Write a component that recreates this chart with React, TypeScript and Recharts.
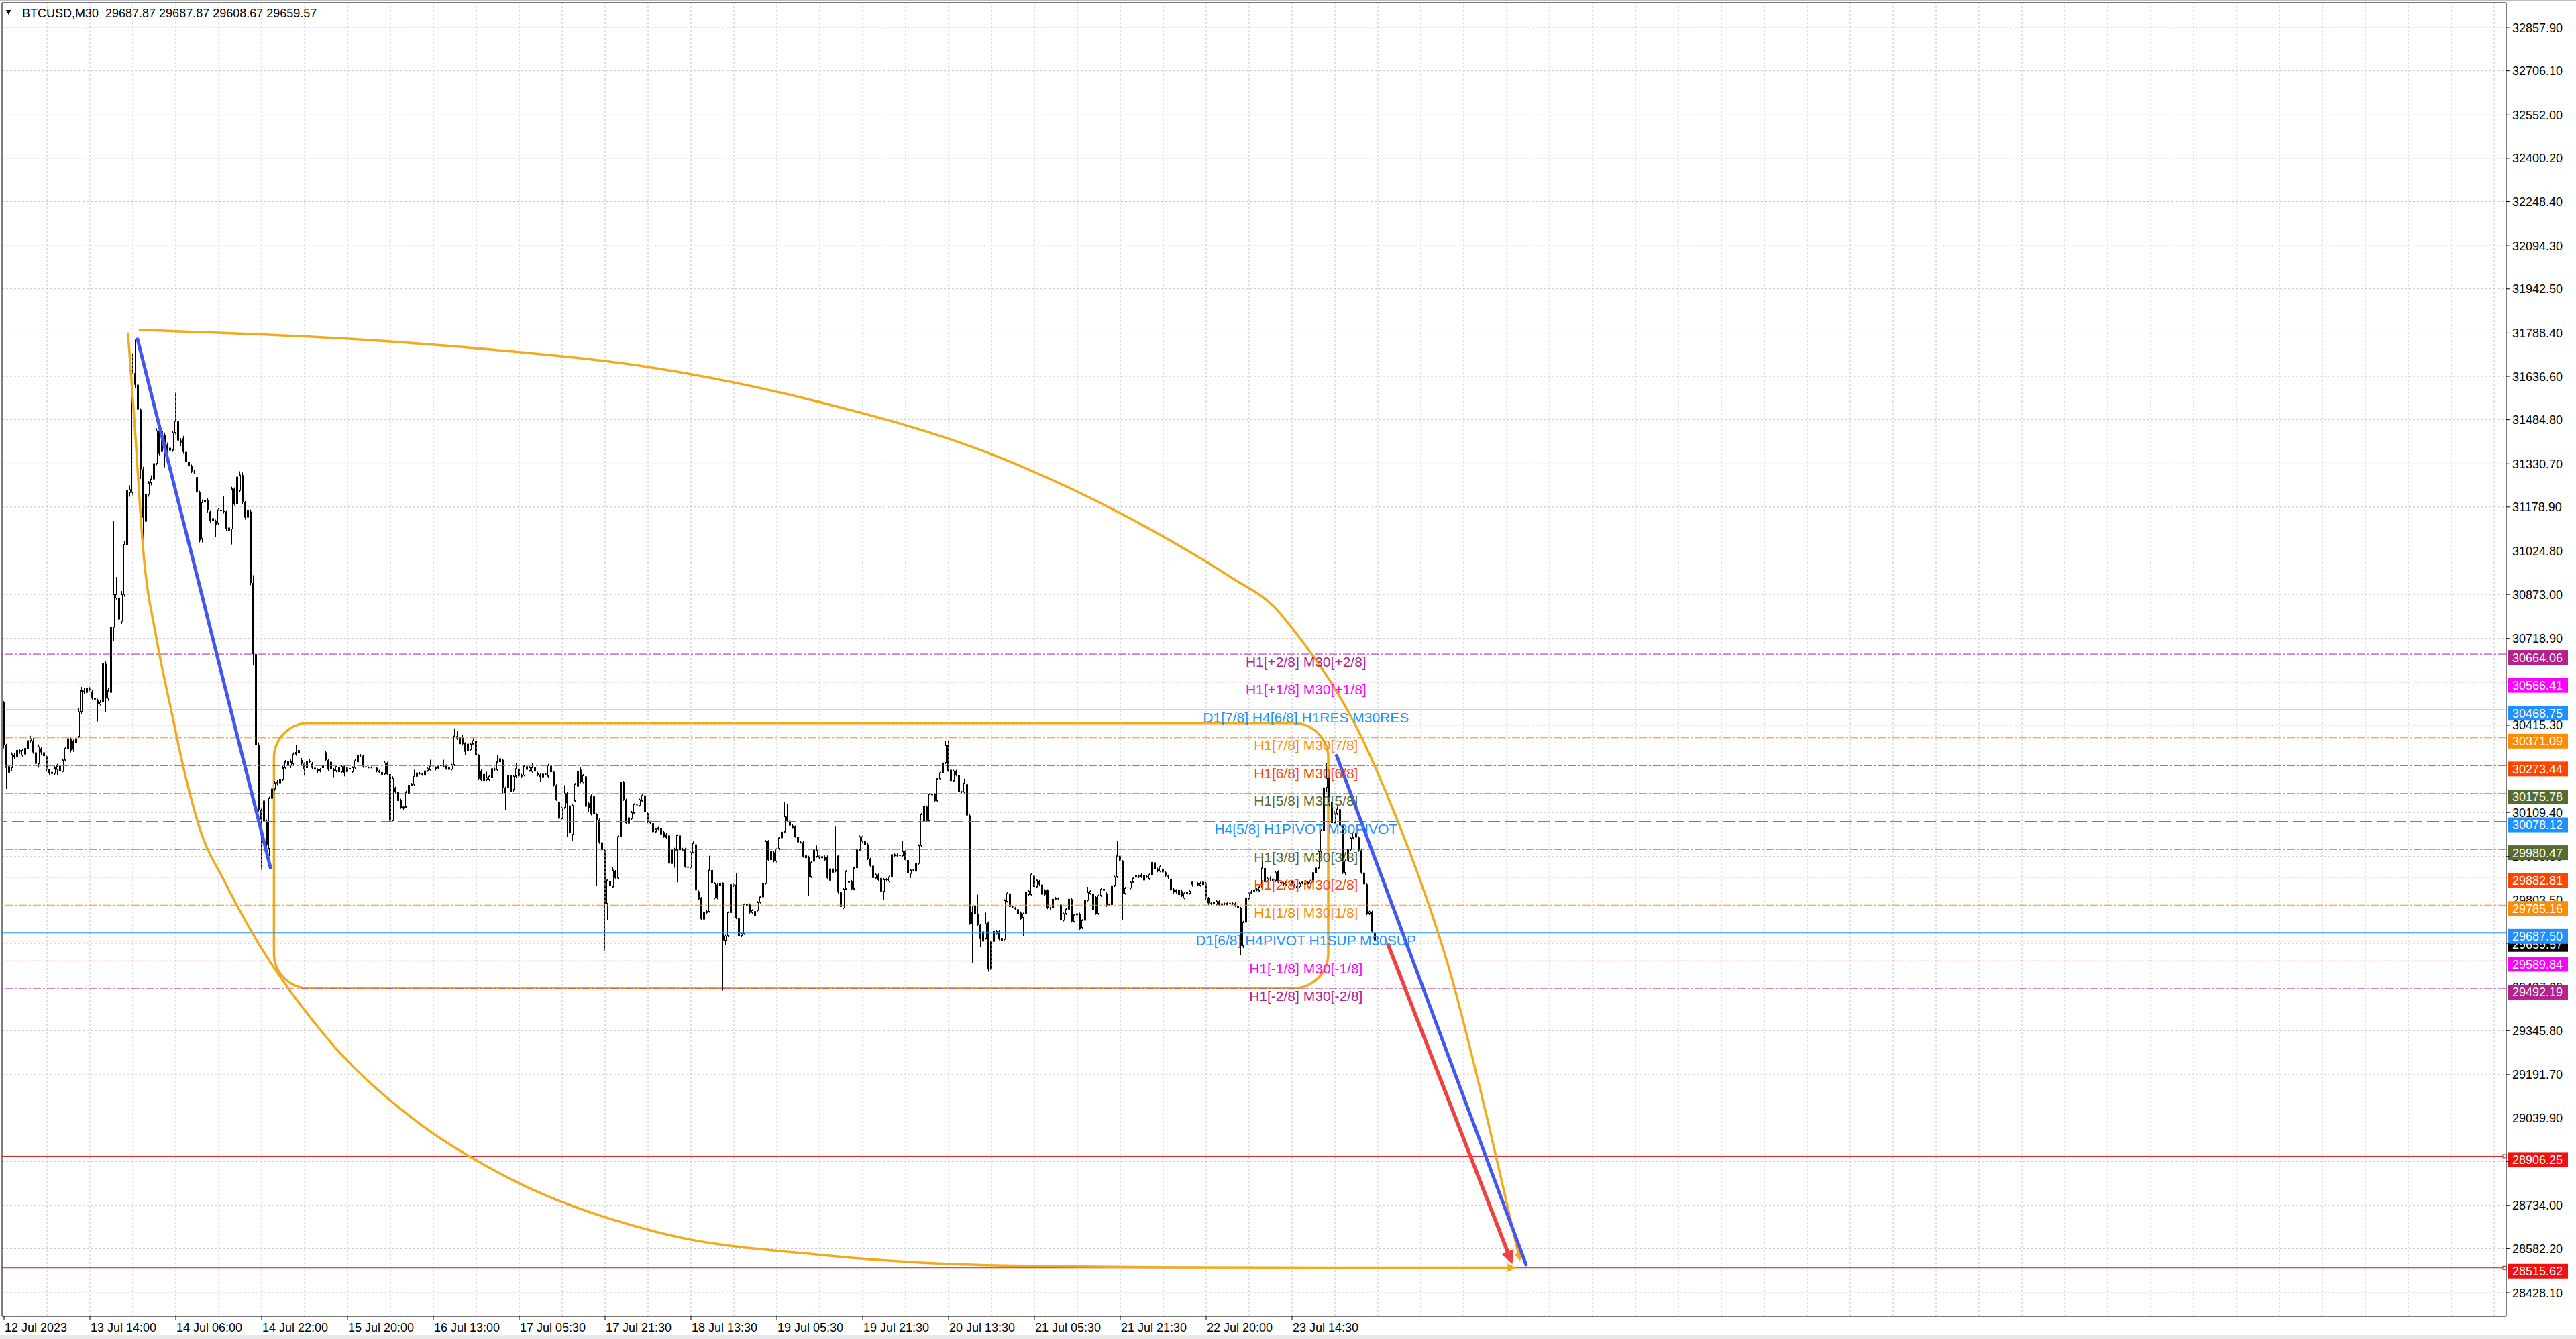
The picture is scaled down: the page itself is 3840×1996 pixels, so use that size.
import React from "react";
import {
  ComposedChart,
  Bar,
  Line,
  XAxis,
  YAxis,
  CartesianGrid,
  ReferenceLine,
  ReferenceArea,
  ReferenceDot,
} from "recharts";

const FONT = "'Liberation Sans', Arial, Helvetica, sans-serif";

// M30 candles, [open, high, low, close]
const rallyBars = [
  [30496,30500,30334,30347],[30347,30350,30192,30266],[30250,30275,30206,30270],[30266,30320,30255,30314],
  [30310,30318,30298,30305],[30305,30335,30300,30327],[30327,30332,30315,30322],[30310,30333,30305,30327],
  [30314,30340,30310,30334],[30334,30381,30330,30361],[30361,30378,30355,30368],[30361,30370,30315,30320],
  [30320,30325,30270,30280],[30280,30348,30266,30340],[30334,30340,30312,30320],[30320,30325,30300,30307],
  [30307,30310,30255,30260],[30260,30262,30239,30246],[30246,30256,30240,30250],[30246,30272,30240,30266],
  [30260,30280,30239,30273],[30273,30276,30248,30253],[30253,30298,30250,30293],[30293,30340,30288,30334],
  [30334,30375,30330,30368],[30368,30372,30320,30327],[30361,30365,30322,30330],[30354,30372,30350,30368],
  [30375,30475,30370,30462],[30462,30549,30455,30536],[30536,30545,30525,30532],[30530,30590,30525,30543],
  [30543,30550,30532,30540],[30533,30540,30505,30509],[30509,30515,30498,30505],[30502,30508,30428,30489],
  [30489,30505,30484,30496],[30496,30640,30490,30630],[30630,30640,30462,30509],[30509,30545,30500,30536],
  [30530,30765,30525,30758],[30758,31129,30711,30873],[30860,30934,30855,30873],[30860,30870,30711,30785],
  [30779,30885,30770,30873],[30873,31060,30865,31048],[31048,31412,31040,31237],[31230,31255,31215,31240],
  [31230,31715,31220,31648],[31648,31765,31595,31607],[31607,31655,31510,31520],[31520,31525,31277,31311],
  [31311,31320,31035,31142],[31129,31230,31095,31223],[31223,31270,31215,31264],[31264,31290,31255,31277],
  [31277,31351,31270,31331],[31331,31455,31325,31446],[31446,31452,31360,31365],[31446,31455,31365,31372],
  [31432,31440,31318,31365],[31398,31405,31370,31378],[31378,31392,31372,31385],[31378,31446,31372,31439],
  [31439,31580,31430,31479],[31479,31490,31405,31412],[31412,31420,31392,31405],[31420,31428,31365,31372],
  [31372,31378,31332,31338],[31338,31342,31318,31324],[31324,31328,31298,31304],[31304,31310,31294,31300],
  [31284,31290,31225,31230],[31230,31236,31055,31062],[31068,31205,31055,31196],[31196,31250,31190,31203],
  [31203,31210,31160,31169],[31163,31168,31122,31129],[31140,31168,31120,31130],[31130,31135,31075,31115],
  [31122,31175,31115,31169],[31169,31175,31160,31165],[31163,31216,31156,31166],[31163,31168,31095,31102],
  [31107,31112,31068,31095],[31102,31250,31048,31243],[31243,31248,31184,31190],[31190,31290,31182,31284],
  [31237,31304,31230,31291],[31291,31300,31190,31196],[31196,31200,31135,31142],[31169,31175,31062,31142],
  [31163,31170,30905,30913],[30913,30940,30624,30664],[30664,30670,30327,30347],[30347,30355,30110,30118],
  [30118,30125,29909,30085],[30151,30160,30070,30078],[30078,30085,29990,29997],[29984,30165,29957,30159],
  [30159,30205,30150,30192],[30192,30220,30185,30213],[30213,30225,30205,30216],[30213,30232,30208,30226],
  [30226,30272,30220,30266],[30266,30293,30260,30287],[30273,30295,30268,30287],[30273,30295,30265,30287],
  [30280,30320,30275,30314],[30314,30347,30308,30320],[30320,30335,30315,30327],[30293,30300,30275,30280],
  [30280,30285,30239,30260],[30266,30292,30260,30287],[30287,30296,30282,30290],[30280,30286,30262,30266],
  [30266,30270,30254,30260],[30260,30264,30248,30253],[30256,30265,30250,30260],[30266,30278,30262,30273],
  [30320,30325,30288,30293],[30293,30298,30255,30260],[30287,30292,30256,30260],[30260,30265,30233,30253],
  [30256,30275,30250,30270],[30252,30272,30248,30267],[30252,30276,30248,30271],[30271,30275,30236,30248],
];

const rangeBarsA = [
  [30252,30272,30248,30267],[30265,30270,30258,30262],[30252,30271,30248,30267],[30267,30296,30262,30291],
  [30287,30316,30283,30310],[30310,30314,30303,30308],[30308,30312,30266,30271],[30271,30274,30263,30267],
  [30267,30270,30264,30267],[30267,30271,30264,30268],[30268,30270,30263,30266],[30266,30269,30250,30253],
  [30256,30259,30246,30250],[30251,30254,30236,30240],[30244,30290,30240,30283],[30283,30287,30240,30244],
  [30244,30250,30025,30080],[30081,30236,30075,30230],[30197,30200,30176,30181],[30181,30185,30146,30150],
  [30154,30158,30122,30126],[30130,30133,30118,30123],[30128,30186,30124,30181],[30177,30210,30172,30205],
  [30205,30213,30202,30208],[30208,30259,30204,30236],[30236,30252,30232,30248],[30248,30251,30242,30245],
  [30245,30248,30238,30242],[30240,30259,30237,30255],[30255,30267,30252,30263],[30259,30294,30255,30271],
  [30269,30273,30265,30268],[30268,30271,30257,30261],[30265,30276,30261,30273],[30273,30277,30269,30272],
  [30272,30294,30269,30275],[30275,30278,30259,30263],[30267,30270,30255,30259],[30261,30280,30257,30276],
  [30276,30404,30272,30377],[30377,30396,30364,30369],[30373,30378,30345,30349],[30375,30381,30344,30349],
  [30352,30356,30310,30322],[30326,30353,30322,30349],[30330,30354,30326,30349],[30349,30370,30345,30361],
  [30361,30365,30306,30310],[30310,30314,30224,30228],[30255,30260,30220,30224],[30244,30248,30197,30220],
  [30224,30252,30220,30232],[30224,30240,30220,30236],[30232,30267,30228,30263],[30263,30266,30255,30259],
  [30259,30310,30255,30287],[30287,30302,30283,30298],[30294,30298,30177,30197],[30197,30200,30119,30177],
  [30197,30244,30193,30240],[30240,30244,30175,30181],[30189,30240,30183,30236],[30236,30284,30232,30263],
  [30263,30267,30232,30236],[30236,30245,30232,30240],[30240,30275,30236,30271],[30271,30275,30255,30259],
  [30255,30271,30252,30267],[30253,30283,30249,30267],[30267,30271,30249,30253],[30248,30252,30236,30240],
  [30242,30246,30216,30234],[30234,30248,30230,30244],[30244,30248,30240,30243],[30236,30280,30232,30275],
  [30252,30283,30248,30275],[30252,30256,30200,30205],[30205,30208,30150,30154],[30146,30150,29962,30088],
  [30088,30130,30083,30126],[30126,30205,30122,30177],[30177,30181,30025,30142],[30134,30138,30032,30037],
  [30033,30138,30009,30134],[30150,30213,30146,30209],[30201,30256,30197,30252],[30259,30267,30212,30216],
  [30216,30244,30212,30240],[30236,30240,30126,30130],[30142,30146,30111,30126],[30169,30173,30099,30103],
  [30166,30170,30098,30103],[30103,30107,29853,30084],[30084,30088,30000,30005],[30005,30009,29974,29978],
  [29978,29982,29627,29791],[29791,29877,29732,29873],[29853,29873,29849,29869],[29849,29920,29845,29908],
  [29904,29908,29876,29880],[29880,30029,29876,30025],[30025,30220,30021,30216],[30216,30220,30150,30154],
  [30154,30158,30068,30072],[30072,30095,30056,30091],[30088,30115,30084,30111],[30107,30142,30103,30138],
  [30136,30140,30130,30134],[30134,30158,30130,30154],[30150,30173,30146,30169],[30169,30173,30107,30111],
  [30107,30111,30072,30076],[30076,30080,30068,30072],[30072,30076,30037,30041],[30042,30056,30038,30052],
  [30052,30060,30048,30056],[30056,30060,30029,30033],[30041,30045,30021,30025],[30033,30037,30017,30021],
  [30029,30033,29896,29931],[29931,29982,29927,29978],[29978,29986,29916,29982],[29978,30033,29865,30029],
  [30029,30056,29974,29978],[29978,29986,29974,29982],[29982,29986,29916,29920],[29920,29924,29880,29916],
  [29916,29974,29912,29970],[29970,30009,29966,30001],[29998,30002,29759,29837],[29833,29837,29802,29806],
  [29810,29814,29732,29736],[29736,29763,29669,29759],[29759,29767,29755,29763],[29763,29958,29759,29908],
  [29908,29912,29857,29861],[29810,29865,29806,29861],[29857,29861,29806,29810],[29853,29865,29849,29861],
  [29861,29865,29486,29662],[29662,29681,29646,29677],[29677,29763,29673,29759],[29759,29861,29755,29857],
  [29853,29861,29849,29857],[29857,29896,29736,29740],[29740,29744,29673,29677],[29677,29689,29673,29685],
  [29685,29791,29681,29787],[29783,29791,29779,29787],[29787,29791,29755,29759],[29759,29771,29755,29767],
  [29748,29767,29744,29763],[29767,29799,29763,29795],[29795,29818,29791,29814],[29814,29865,29810,29861],
  [29861,30013,29857,30009],[30009,30013,29939,29943],
];

const rangeBarsB = [
  [29974,29978,29939,29943],[29970,29974,29935,29939],[29939,29986,29935,29982],[29982,30025,29978,30021],
  [30021,30045,30017,30041],[30041,30146,30037,30095],[30095,30138,30076,30080],[30080,30084,30060,30064],
  [30064,30068,30052,30056],[30060,30064,30021,30025],[30025,30029,30001,30005],[30005,30009,30001,30004],
  [30005,30009,29951,29955],[29951,29962,29947,29958],[29955,29958,29818,29884],[29884,29939,29880,29935],
  [29939,29982,29935,29978],[29955,29994,29951,29978],[29958,29962,29947,29951],[29951,29959,29946,29955],
  [29955,29959,29939,29943],[29955,29959,29876,29880],[29872,29916,29861,29912],[29900,29916,29802,29912],
  [29904,30060,29900,29908],[29958,29962,29826,29830],[29830,29834,29736,29779],[29775,29845,29771,29841],
  [29841,29908,29837,29904],[29865,29873,29861,29869],[29869,29873,29837,29841],[29841,29920,29837,29916],
  [29916,30029,29912,29982],[29978,30029,29974,30025],[30009,30029,30005,30025],[29998,30029,29994,30009],
  [29998,30002,29943,29947],[29947,29951,29919,29923],[29923,29927,29810,29880],[29880,29896,29876,29892],
  [29892,29896,29869,29873],[29880,29884,29830,29833],[29833,29880,29802,29876],[29876,29880,29869,29873],
  [29869,29888,29865,29884],[29884,29966,29880,29962],[29958,29966,29955,29962],[29962,29966,29955,29958],
  [29958,29962,29955,29959],[29958,30009,29955,29974],[29974,29978,29939,29943],[29943,29947,29892,29896],
  [29896,29912,29880,29908],[29908,29912,29904,29907],[29904,29935,29900,29931],[29931,29998,29927,29994],
  [29994,30107,29990,30103],[30080,30134,30076,30130],[30130,30134,30076,30080],[30080,30177,30076,30173],
  [30173,30177,30166,30170],[30173,30177,30146,30150],[30150,30232,30146,30228],[30228,30252,30224,30248],
  [30248,30334,30244,30283],[30283,30361,30279,30345],[30345,30361,30251,30255],[30259,30263,30185,30220],
  [30220,30259,30216,30255],[30255,30259,30236,30240],[30240,30244,30134,30181],[30181,30185,30177,30182],
  [30181,30228,30177,30212],[30208,30212,30087,30099],[30099,30103,29716,29720],[29760,29783,29584,29720],
  [29755,29787,29751,29783],[29755,29822,29712,29716],[29716,29720,29638,29669],[29693,29697,29654,29658],
  [29669,29759,29665,29720],[29724,29728,29552,29560],[29560,29662,29556,29658],[29658,29697,29630,29693],
  [29685,29697,29681,29693],[29693,29697,29662,29666],[29662,29673,29630,29669],[29666,29806,29662,29802],
  [29798,29830,29794,29826],[29826,29830,29775,29779],[29779,29783,29775,29778],[29775,29779,29767,29771],
  [29771,29775,29751,29755],[29759,29763,29732,29736],[29740,29759,29677,29755],[29755,29834,29751,29830],
  [29822,29838,29818,29834],[29822,29896,29818,29892],[29888,29892,29845,29849],[29849,29877,29845,29873],
  [29869,29873,29853,29857],[29857,29861,29818,29822],[29837,29841,29818,29822],[29837,29841,29771,29775],
  [29775,29779,29767,29773],[29775,29810,29771,29806],[29806,29814,29802,29810],[29808,29812,29802,29806],
  [29787,29791,29728,29732],[29732,29759,29728,29755],[29755,29775,29751,29771],[29771,29810,29767,29806],
  [29806,29810,29724,29728],[29728,29755,29724,29751],[29751,29759,29747,29755],[29755,29759,29697,29701],
  [29705,29736,29701,29732],[29732,29806,29728,29802],[29802,29849,29798,29830],[29826,29838,29822,29834],
  [29826,29830,29763,29767],[29814,29818,29751,29755],[29755,29822,29751,29818],[29818,29845,29814,29841],
  [29837,29845,29833,29841],[29826,29830,29779,29783],[29787,29791,29783,29786],[29787,29857,29783,29853],
  [29853,29888,29849,29884],[29884,30009,29880,29958],[29958,29962,29935,29939],[29939,29943,29732,29826],
  [29826,29849,29822,29845],[29845,29850,29798,29846],[29845,29869,29841,29865],[29865,29884,29861,29880],
  [29884,29900,29880,29888],[29888,29892,29880,29885],[29892,29896,29880,29884],[29873,29892,29869,29888],
  [29884,29889,29880,29885],[29877,29896,29873,29892],[29892,29939,29888,29935],[29935,29939,29908,29912],
  [29912,29916,29900,29904],[29904,29924,29900,29920],[29912,29916,29896,29900],[29900,29904,29884,29888],
  [29888,29892,29876,29882],[29876,29880,29833,29837],[29841,29845,29826,29830],[29837,29841,29826,29830],
  [29822,29841,29818,29837],[29834,29838,29814,29818],[29810,29830,29806,29826],[29826,29834,29822,29830],
  [29826,29838,29822,29834],
];

const tailBars = [
  [29858,29870,29850,29866],[29862,29868,29855,29860],[29856,29866,29852,29862],[29855,29867,29850,29862],
  [29857,29870,29853,29866],[29862,29866,29805,29810],[29810,29814,29786,29792],[29792,29796,29786,29790],
  [29790,29798,29787,29794],[29788,29803,29784,29799],[29799,29803,29782,29786],[29786,29794,29782,29790],
  [29790,29794,29785,29789],[29787,29796,29783,29792],[29792,29795,29786,29790],[29790,29795,29786,29791],
  [29791,29795,29779,29783],[29783,29787,29770,29775],[29775,29779,29610,29643],[29643,29730,29635,29725],
  [29725,29812,29720,29808],[29808,29832,29804,29828],[29828,29838,29824,29832],[29832,29843,29828,29838],
  [29838,29846,29834,29841],[29835,29853,29831,29849],[29849,29940,29845,29915],[29915,29920,29862,29866],
  [29870,29885,29866,29878],[29878,29886,29870,29875],[29878,29883,29864,29868],[29870,29904,29866,29899],
  [29903,29907,29862,29866],[29866,29870,29857,29862],[29862,29866,29854,29858],[29856,29870,29852,29866],
  [29866,29872,29862,29868],[29868,29872,29851,29855],[29855,29859,29844,29848],[29848,29856,29844,29851],
  [29851,29866,29847,29862],[29862,29870,29858,29866],[29858,29866,29854,29862],[29866,29870,29854,29858],
  [29862,29874,29858,29870],[29866,29903,29862,29899],[29899,29920,29895,29915],[29915,29977,29910,29973],
  [29973,30051,29969,30047],[30047,30200,30043,30196],[30196,30282,30180,30229],[30229,30235,30130,30146],
  [30146,30150,29998,30072],[30072,30115,30068,30105],[30105,30130,30100,30121],[30121,30126,30060,30064],
  [30064,30068,29894,29899],[29899,29945,29890,29940],[29940,29985,29935,29980],[29980,30025,29975,30020],
  [30020,30045,30015,30039],[30039,30045,30018,30022],[30022,30026,29972,29977],[29977,29981,29894,29899],
  [29899,29903,29825,29858],[29858,29862,29750,29755],[29755,29766,29750,29762],[29762,29766,29688,29693],
  [29687.87,29687.87,29608.67,29659.57],
];

const xTickBars = [0, 32, 64, 96, 128, 160, 192, 224, 256, 288, 320, 352, 384, 416, 448, 480];
const xTickLabels = [
  "12 Jul 2023", "13 Jul 14:00", "14 Jul 06:00", "14 Jul 22:00", "15 Jul 20:00", "16 Jul 13:00",
  "17 Jul 05:30", "17 Jul 21:30", "18 Jul 13:30", "19 Jul 05:30", "19 Jul 21:30", "20 Jul 13:30",
  "21 Jul 05:30", "21 Jul 21:30", "22 Jul 20:00", "23 Jul 14:30",
];

const yTicks = [
  32857.9, 32706.1, 32552.0, 32400.2, 32248.4, 32094.3, 31942.5, 31788.4, 31636.6, 31484.8,
  31330.7, 31178.9, 31024.8, 30873.0, 30718.9, 30567.0, 30415.3, 30261.2, 30109.4, 29955.3,
  29803.5, 29651.7, 29497.6, 29345.8, 29191.7, 29039.9, 28887.8, 28734.0, 28582.2, 28428.1,
];

// Murrey levels
const levelPrices = [
  30664.06, 30566.41, 30468.75, 30371.09, 30273.44, 30175.78, 30078.12,
  29980.47, 29882.81, 29785.16, 29687.5, 29589.84, 29492.19,
];
const levelNames = [
  "H1[+2/8] M30[+2/8]", "H1[+1/8] M30[+1/8]", "D1[7/8] H4[6/8] H1RES M30RES",
  "H1[7/8] M30[7/8]", "H1[6/8] M30[6/8]", "H1[5/8] M30[5/8]", "H4[5/8] H1PIVOT M30PIVOT",
  "H1[3/8] M30[3/8]", "H1[2/8] M30[2/8]", "H1[1/8] M30[1/8]", "D1[6/8] H4PIVOT H1SUP M30SUP",
  "H1[-1/8] M30[-1/8]", "H1[-2/8] M30[-2/8]",
];
const labelBar = 485.2;

const targetPrices = [28906.25, 28515.62];
const bidPrice = 29659.57;

// drawn objects
const topCurveBars = [50.2, 128.5, 182, 243, 304.6, 365.8, 427, 457.7, 473, 482.7, 506, 515.2, 523.5, 531, 537.7, 553.5, 564.75];
const topCurvePrices = [31799, 31768, 31730, 31665, 31545, 31372, 31102, 30930, 30832, 30723, 30371, 30176, 29980, 29785, 29590, 29008, 28550];
const bottomCurveBars = [46.2, 48.5, 51.8, 56.8, 62.3, 66.8, 73.5, 81.8, 86.8, 121, 151.6, 182.2, 243.4, 304.6, 365.8, 427, 500, 562.25];
const bottomCurvePrices = [31790, 31493, 31035, 30720, 30468, 30270, 30037, 29875, 29784, 29313, 29043, 28859, 28640, 28560, 28525, 28518, 28516, 28516];
const boxBars = [100.6, 493.5];
const boxPrices = [30423, 29494];
const blueLegBars = [49.75, 99.3];
const blueLegPrices = [31766.5, 29916];
const blueProjBars = [496.6, 567.2];
const blueProjPrices = [30309, 28527];
const redProjBars = [515.6, 561.4];
const redProjPrices = [29652, 28546];

const DD = "12 3 3 3";
const LEVEL_COLORS = ["#B3228E", "#FF00FF", "#1E90FF", "#FF8C00", "#FF4500", "#556B2F", "#1E90FF",
  "#556B2F", "#FF4500", "#FF8C00", "#1E90FF", "#FF00FF", "#B3228E"];
const LEVEL_DASH = [DD, DD, undefined, DD, DD, DD, "18 7", DD, DD, DD, undefined, DD, DD];
const ORANGE = "#F2AA1C";
const BLUE = "#4357F0";
const RED = "#F04141";
const GRID = "#C4C4C4";

const allBars = [...rallyBars, ...rangeBarsA, ...rangeBarsB, ...tailBars];

function Candle(props: any) {
  const { x, y, width, height, payload } = props;
  if (!payload || height == null) return null;
  const { o, h, l, c } = payload;
  const cx = Math.floor(x + width / 2) + 0.5;
  const ppu = h > l ? height / (h - l) : 0;
  const clamp = (v: number) => Math.min(h, Math.max(l, v));
  const yo = y + (h - clamp(o)) * ppu;
  const yc = y + (h - clamp(c)) * ppu;
  const top = Math.min(yo, yc);
  const bot = Math.max(yo, yc);
  let body;
  if (bot - top < 1.2) {
    body = <line x1={cx - 1.5} x2={cx + 1.5} y1={top} y2={top} stroke="#000" strokeWidth={1} />;
  } else if (c > o) {
    body = <rect x={cx - 1} y={top} width={2} height={bot - top} fill="#fff" stroke="#000" strokeWidth={1} />;
  } else {
    body = <rect x={cx - 1.5} y={top} width={3} height={bot - top} fill="#000" />;
  }
  return (
    <g>
      <line x1={cx} x2={cx} y1={y} y2={y + height} stroke="#000" strokeWidth={1} />
      {body}
    </g>
  );
}

function PriceTag({ viewBox, text, bg, square }: any) {
  if (!viewBox) return null;
  const right = viewBox.x + viewBox.width;
  const y = viewBox.y;
  return (
    <g>
      {square && <rect x={right - 5} y={y - 2.5} width={5} height={5} fill="#fff" stroke={square} strokeWidth={1} />}
      <rect x={right + 2} y={y - 6} width={90} height={22} fill={bg} />
      <text x={right + 9} y={y + 11.5} fill="#fff" fontSize={18} fontFamily={FONT}>{text}</text>
    </g>
  );
}

function PriceTick({ viewBox, text }: any) {
  if (!viewBox) return null;
  const right = viewBox.x + viewBox.width;
  return (
    <text x={right + 9} y={viewBox.y + 6.5} fill="#000" fontSize={18} fontFamily={FONT}>{text}</text>
  );
}

export default function App() {
  const data = allBars.map((b, i) => ({ i, o: b[0], h: b[1], l: b[2], c: b[3], hl: [b[2], b[1]] }));
  const topCurve = topCurveBars.map((i, k) => ({ i, p: topCurvePrices[k] }));
  const bottomCurve = bottomCurveBars.map((i, k) => ({ i, p: bottomCurvePrices[k] }));
  const blueLeg = blueLegBars.map((i, k) => ({ i, p: blueLegPrices[k] }));
  const blueProj = blueProjBars.map((i, k) => ({ i, p: blueProjPrices[k] }));
  const redProj = redProjBars.map((i, k) => ({ i, p: redProjPrices[k] }));
  const gridCols = Array.from({ length: 58 }, (_, k) => 16 * (k + 1));

  return (
    <div style={{ position: "fixed", left: 0, top: 0, width: 3840, height: 1996, background: "#fff", overflow: "hidden" }}>
      <ComposedChart width={3840} height={1996} data={data} margin={{ top: 4, right: 0, bottom: 0, left: 3 }}>
        <defs>
          <marker id="arrowRed" viewBox="0 0 10 10" refX="6" refY="5" markerWidth="3.6" markerHeight="3.6" orient="auto">
            <path d="M0,0 L10,5 L0,10 z" fill={RED} />
          </marker>
          <marker id="arrowOrange" viewBox="0 0 10 10" refX="6" refY="5" markerWidth="3.6" markerHeight="3.6" orient="auto">
            <path d="M0,0 L10,5 L0,10 z" fill={ORANGE} />
          </marker>
        </defs>
        <XAxis
          dataKey="i"
          type="number"
          domain={[-0.75, 932.5]}
          allowDataOverflow
          ticks={xTickBars}
          interval={0}
          height={34}
          tickSize={6}
          tickMargin={2}
          axisLine={{ stroke: "#000" }}
          tickLine={{ stroke: "#000" }}
          tick={(p: any) => (
            <text x={p.x + 1} y={p.y + 14.5} textAnchor="start" fontSize={18} fontFamily={FONT} fill="#000">
              {xTickLabels[xTickBars.indexOf(p.payload.value)]}
            </text>
          )}
        />
        <YAxis
          orientation="right"
          type="number"
          domain={[28345.9, 32944.9]}
          allowDataOverflow
          ticks={yTicks}
          interval={0}
          width={104}
          tickSize={6}
          tickMargin={3}
          axisLine={{ stroke: "#000" }}
          tickLine={{ stroke: "#000" }}
          tick={() => <g />}
        />
        <CartesianGrid vertical={false} stroke={GRID} strokeDasharray="3 3" />
        {gridCols.map((g) => (
          <ReferenceLine key={"g" + g} x={g} stroke={GRID} strokeDasharray="3 3" />
        ))}
        <ReferenceLine x={-0.75} stroke="#000" />
        <ReferenceLine y={32944.9} stroke="#000" />

        {/* price scale labels, drawn before the coloured tags so the tags cover them */}
        {yTicks.map((t) => (
          <ReferenceLine
            key={"yt" + t}
            y={t}
            stroke="none"
            label={{ content: (p: any) => <PriceTick viewBox={p.viewBox} text={t.toFixed(2)} /> }}
          />
        ))}

        <ReferenceLine
          y={bidPrice}
          stroke="#C0C0C0"
          label={{ content: (p: any) => <PriceTag viewBox={p.viewBox} text={bidPrice.toFixed(2)} bg="#000" /> }}
        />
        {levelPrices.map((v, k) => (
          <ReferenceLine
            key={"lv" + k}
            y={v}
            stroke={LEVEL_COLORS[k]}
            strokeDasharray={LEVEL_DASH[k]}
            label={{ content: (p: any) => <PriceTag viewBox={p.viewBox} text={v.toFixed(2)} bg={LEVEL_COLORS[k]} /> }}
          />
        ))}
        {targetPrices.map((v, k) => (
          <ReferenceLine
            key={"tp" + k}
            y={v}
            stroke="#C81E1E"
            label={{ content: (p: any) => <PriceTag viewBox={p.viewBox} text={v.toFixed(2)} bg="#EE1111" square="#C81E1E" /> }}
          />
        ))}
        {levelPrices.map((v, k) => (
          <ReferenceDot
            key={"lt" + k}
            x={labelBar}
            y={v}
            r={0}
            shape={(p: any) => (
              <text x={p.cx} y={p.cy + 18.5} textAnchor="middle" fill={LEVEL_COLORS[k]} fontSize={21} fontFamily={FONT}>
                {levelNames[k]}
              </text>
            )}
          />
        ))}

        <Bar dataKey="hl" barSize={3} shape={<Candle />} isAnimationActive={false} />

        <ReferenceArea
          x1={boxBars[0]}
          x2={boxBars[1]}
          y1={boxPrices[1]}
          y2={boxPrices[0]}
          shape={(p: any) => (
            <rect x={p.x} y={p.y} width={p.width} height={p.height} rx={52} ry={52} fill="none" stroke={ORANGE} strokeWidth={3.5} />
          )}
        />
        <Line data={topCurve} dataKey="p" type="monotone" stroke={ORANGE} strokeWidth={3.5} dot={false} activeDot={false}
          isAnimationActive={false} markerEnd="url(#arrowOrange)" />
        <Line data={bottomCurve} dataKey="p" type="monotone" stroke={ORANGE} strokeWidth={3.5} dot={false} activeDot={false}
          isAnimationActive={false} markerEnd="url(#arrowOrange)" />
        <Line data={blueLeg} dataKey="p" type="linear" stroke={BLUE} strokeWidth={5} strokeLinecap="round" dot={false}
          activeDot={false} isAnimationActive={false} />
        <Line data={blueProj} dataKey="p" type="linear" stroke={BLUE} strokeWidth={5} strokeLinecap="round" dot={false}
          activeDot={false} isAnimationActive={false} />
        <Line data={redProj} dataKey="p" type="linear" stroke={RED} strokeWidth={5.5} dot={false} activeDot={false}
          isAnimationActive={false} markerEnd="url(#arrowRed)" />
      </ComposedChart>

      <svg style={{ position: "absolute", left: 0, top: 0 }} width={640} height={40}>
        <polygon points="9,15 16.5,15 12.75,22" fill="#000" />
        <text x={33} y={25.5} fontSize={18} fontFamily={FONT} fill="#000" style={{ whiteSpace: "pre" }}>
          {"BTCUSD,M30  29687.87 29687.87 29608.67 29659.57"}
        </text>
      </svg>
      <div style={{ position: "absolute", left: 0, top: 0, width: 3840, height: 2, background: "#BDBDBD" }} />
      <div style={{ position: "absolute", left: 0, top: 1990, width: 3840, height: 6, background: "#E8E8E8" }} />
    </div>
  );
}
